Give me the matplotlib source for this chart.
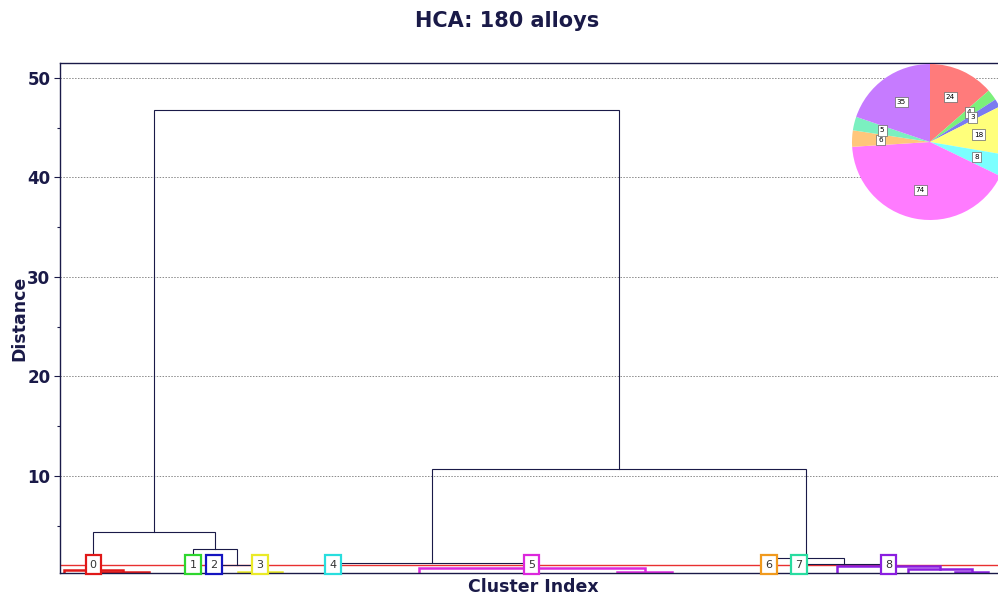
"""
Dendrogram of a hierarchical cluster analysis (HCA) with cluster-size pie inset.
"""

from __future__ import annotations

import matplotlib

matplotlib.use("Agg")
import matplotlib.pyplot as plt
from matplotlib.ticker import MultipleLocator

# --- data -----------------------------------------------------------------
# leaf positions along the cluster axis (dendrogram leaf order)
leaf_x = [4, 36, 89, 133, 154, 178, 222, 273, 359, 557, 612,
          704, 714, 739, 777, 848, 895, 928]
# cluster id of every leaf
leaf_cluster = [0, 0, 0, 1, 2, 3, 3, 4, 5, 5, 5, 6, 6, 7, 8, 8, 8, 8]
# linkage rows: (child a, child b, merge distance); new nodes get ids 18, 19, ...
merge_a = [1, 0, 5, 4, 3, 19, 9, 8, 7, 11, 16, 15, 14, 13, 27, 26, 23]
merge_b = [2, 18, 6, 20, 21, 22, 10, 24, 25, 12, 17, 28, 29, 30, 31, 32, 33]
merge_h = [0.38, 0.55, 0.38, 1.05, 2.66, 4.37, 0.35, 0.72, 1.26, 0.30,
           0.35, 0.65, 0.98, 1.16, 1.76, 10.7, 46.8]
cut_height = 1.09

cluster_ids = [0, 1, 2, 3, 4, 5, 6, 7, 8]
cluster_sizes = [24, 4, 3, 18, 8, 74, 6, 5, 35]
cluster_colors = ["#e01818", "#2ed62e", "#1414c0", "#eaea28", "#28dede",
                  "#dc28dc", "#f09a1e", "#28dca0", "#8a1ee0"]
pie_colors = ["#ff7b7b", "#7bf07b", "#7b7bf0", "#ffff7b", "#7bffff",
              "#ff7bff", "#ffc67b", "#7bf0c0", "#c67bff"]

NAVY = "#1a1a48"


def build_nodes():
    """Return x, height and cluster (or None) for every leaf and merge node."""
    xs = list(map(float, leaf_x))
    hs = [0.0] * len(leaf_x)
    cl = list(leaf_cluster)
    for a, b, h in zip(merge_a, merge_b, merge_h):
        xs.append((xs[a] + xs[b]) / 2)
        hs.append(h)
        cl.append(cl[a] if cl[a] is not None and cl[a] == cl[b] else None)
    return xs, hs, cl


def draw_dendrogram(ax):
    xs, hs, cl = build_nodes()
    n = len(leaf_x)
    for k, (a, b, h) in enumerate(zip(merge_a, merge_b, merge_h)):
        c = cl[n + k]
        color = cluster_colors[c] if c is not None else NAVY
        lw = 1.8 if c is not None else 0.8
        ax.plot([xs[a], xs[a], xs[b], xs[b]], [hs[a], h, h, hs[b]],
                color=color, lw=lw, solid_joinstyle="miter", zorder=2)

    # top node of every cluster: highest node that still belongs to one cluster
    top = {}
    for i, c in enumerate(cl):
        if c is not None and (c not in top or hs[i] >= hs[top[c]]):
            top[c] = i

    ax.axhline(cut_height, color="#e83030", lw=1.0, zorder=1.5)

    for c in cluster_ids:
        ax.text(xs[top[c]], cut_height, str(c), ha="center", va="center",
                fontsize=8, color="#333333", zorder=5,
                bbox=dict(boxstyle="square,pad=0.38", fc="white",
                          ec=cluster_colors[c], lw=1.6))


def main():
    fig = plt.figure(figsize=(9.98, 5.94), dpi=100)
    W, H = 998, 594
    ax = fig.add_axes([60 / W, 21 / H, 946 / W, 510 / H])

    draw_dendrogram(ax)

    ax.set_xlim(0, 946)
    ax.set_ylim(0.25, 51.5)
    ax.set_xticks([])
    ax.yaxis.set_major_locator(MultipleLocator(10))
    ax.yaxis.set_minor_locator(MultipleLocator(5))
    ax.set_yticks([10, 20, 30, 40, 50])
    ax.tick_params(axis="y", which="major", length=4, width=0.8,
                   colors=NAVY, labelsize=12, pad=3)
    ax.tick_params(axis="y", which="minor", length=2.5, width=0.8, colors=NAVY)
    for lbl in ax.get_yticklabels():
        lbl.set_fontweight("bold")
    ax.grid(axis="y", which="major", linestyle=(0, (1.5, 1.5)),
            color="#8a8a8a", lw=0.7, zorder=0)
    for sp in ax.spines.values():
        sp.set_color(NAVY)
        sp.set_linewidth(1.0)

    ax.set_xlabel("Cluster Index", fontsize=12.5, fontweight="bold",
                  color=NAVY, labelpad=3.5)
    ax.set_ylabel("Distance", fontsize=12.5, fontweight="bold",
                  color=NAVY, labelpad=-1)
    fig.text(507 / W, 1 - 21 / H, "HCA: 180 alloys", ha="center",
             va="center", fontsize=15, fontweight="bold", color=NAVY)

    # pie inset with cluster sizes
    pax = fig.add_axes([852 / W, 1 - 220 / H, 156 / W, 156 / H])
    wedges, texts = pax.pie(cluster_sizes, colors=pie_colors,
                            labels=[str(s) for s in cluster_sizes],
                            startangle=90, counterclock=False,
                            labeldistance=0.63,
                            wedgeprops=dict(lw=0))
    for t in texts:
        t.set_fontsize(5.2)
        t.set_ha("center")
        t.set_va("center")
        t.set_bbox(dict(boxstyle="square,pad=0.3", fc="white",
                        ec="#666666", lw=0.5))
    pax.set_xlim(-1, 1)
    pax.set_ylim(-1, 1)
    pax.set_aspect("equal")

    fig.savefig("out.png", dpi=100)


if __name__ == "__main__":
    main()
